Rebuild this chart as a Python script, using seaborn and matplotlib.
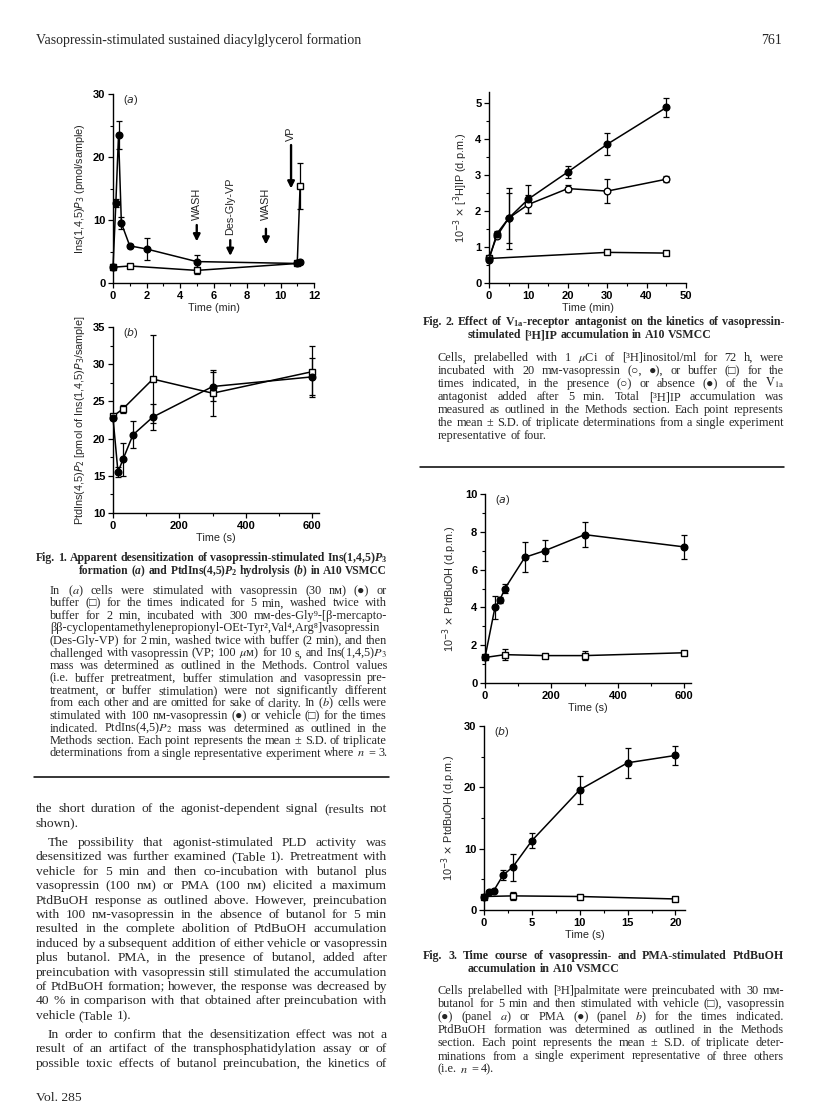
import pandas as pd
import matplotlib
matplotlib.use('Agg')
import matplotlib.pyplot as plt
from matplotlib.lines import Line2D
from matplotlib.ticker import MultipleLocator
import seaborn as sns

W, H = 816, 1112

# Fig. 1(a): Ins(1,4,5)P3 (pmol/sample) vs time (min)
f1a_vp_t = [0, 0.17, 0.33, 0.5, 1, 2, 5, 11, 11.17]
f1a_vp_y = [2.5, 12.7, 23.5, 9.5, 5.9, 5.4, 3.4, 3.1, 3.3]
f1a_vp_sd = [0.5, 0.6, 2.2, 1.0, 0.3, 1.7, 1.0, 0.3, 0.3]
f1a_buf_t = [0, 1, 5, 11, 11.17]
f1a_buf_y = [2.5, 2.7, 2.0, 3.1, 15.4]
f1a_buf_sd = [0.3, 0.2, 0.5, 0.3, 3.6]

# Fig. 1(b): PtdIns(4,5)P2 vs time (s)
f1b_vp_t = [0, 15, 30, 60, 120, 300, 600]
f1b_vp_y = [22.8, 15.5, 17.2, 20.5, 22.9, 27.0, 28.3]
f1b_vp_sd = [0.3, 0.7, 2.2, 1.8, 1.8, 2.0, 2.5]
f1b_veh_t = [0, 30, 120, 300, 600]
f1b_veh_y = [23.0, 24.0, 28.0, 26.1, 29.0]
f1b_veh_sd = [0.3, 0.5, 5.9, 3.1, 3.4]

# Fig. 2: [3H]IP vs time (min)
f2_t = [0, 2, 5, 10, 20, 30, 45]
f2_abs_y = [0.65, 1.37, 1.8, 2.33, 3.08, 3.85, 4.87]
f2_abs_sd = [0.05, 0.07, 0.85, 0.4, 0.18, 0.3, 0.25]
f2_pres_y = [0.7, 1.3, 1.8, 2.18, 2.62, 2.55, 2.88]
f2_pres_sd = [0.05, 0.05, 0.7, 0.25, 0.1, 0.33, 0.08]
f2_buf_t = [0, 30, 45]
f2_buf_y = [0.68, 0.85, 0.83]
f2_buf_sd = [0.03, 0.03, 0.03]

# Fig. 3(a): PtdBuOH, vasopressin, time (s)
f3a_vp_t = [0, 30, 45, 60, 120, 180, 300, 600]
f3a_vp_y = [1.35, 4.0, 4.4, 5.0, 6.65, 7.0, 7.85, 7.2]
f3a_vp_sd = [0.1, 0.6, 0.15, 0.25, 0.8, 0.55, 0.65, 0.65]
f3a_veh_t = [0, 60, 180, 300, 600]
f3a_veh_y = [1.35, 1.5, 1.45, 1.45, 1.6]
f3a_veh_sd = [0.1, 0.3, 0.1, 0.25, 0.05]

# Fig. 3(b): PtdBuOH, PMA, time (s)
f3b_pma_t = [0, 0.5, 1, 2, 3, 5, 10, 15, 20]
f3b_pma_y = [2.2, 3.0, 3.1, 5.7, 7.0, 11.3, 19.6, 24.0, 25.2]
f3b_pma_sd = [0.2, 0.3, 0.4, 0.8, 2.2, 1.2, 2.3, 2.4, 1.6]
f3b_veh_t = [0, 3, 10, 20]
f3b_veh_y = [2.2, 2.3, 2.2, 1.8]
f3b_veh_sd = [0.2, 0.6, 0.2, 0.3]

sns.set_style('ticks')
plt.rcParams.update({
    'font.family': ['Liberation Sans', 'DejaVu Sans'],
    'mathtext.rm': 'Liberation Serif:bold',
    'mathtext.it': 'Liberation Serif:bold:italic',
    'mathtext.bf': 'Liberation Serif:bold',
    'axes.edgecolor': 'black',
    'axes.linewidth': 1.0,
    'xtick.color': 'black',
    'ytick.color': 'black',
    'xtick.direction': 'out',
    'ytick.direction': 'out',
})

fig = plt.figure(figsize=(W / 100, H / 100), dpi=100)
fig.patch.set_facecolor('white')
renderer = fig.canvas.get_renderer()
SERIF = ['Liberation Serif', 'DejaVu Serif']
TICK_FS = 8
LAB_FS = 7.8


def axes_px(left, top, right, bottom):
    return fig.add_axes([left / W, 1 - bottom / H, (right - left) / W, (bottom - top) / H])


def series(ax, t, y, sd, marker, filled, ms=4.8):
    df = pd.DataFrame({'t': t, 'y': y})
    ax.errorbar(t, y, yerr=sd, fmt='none', ecolor='black', elinewidth=0.9,
                capsize=2, capthick=0.9, clip_on=False, zorder=2)
    sns.lineplot(data=df, x='t', y='y', ax=ax, color='black', linewidth=1.1,
                 marker=marker, markersize=ms,
                 markerfacecolor='black' if filled else 'white',
                 markeredgecolor='black', markeredgewidth=1.0,
                 estimator=None, sort=False, clip_on=False, zorder=3)


def style(ax, xlim, ylim, xmaj, xmin, ymaj, ymin, xlabel, ylabel, panel=None):
    ax.set_xlim(xlim)
    ax.set_ylim(ylim)
    ax.xaxis.set_major_locator(MultipleLocator(xmaj))
    ax.xaxis.set_minor_locator(MultipleLocator(xmin))
    ax.yaxis.set_major_locator(MultipleLocator(ymaj))
    ax.yaxis.set_minor_locator(MultipleLocator(ymin))
    ax.tick_params(which='major', length=3.5, width=0.9, pad=2)
    ax.tick_params(which='minor', length=2, width=0.8)
    for lab in ax.get_xticklabels() + ax.get_yticklabels():
        lab.set_fontsize(TICK_FS)
        lab.set_fontweight('bold')
    ax.set_xlabel(xlabel, fontsize=LAB_FS, labelpad=2)
    ax.set_ylabel(ylabel, fontsize=LAB_FS, labelpad=4, math_fontfamily='dejavusans')
    ax.set_facecolor('none')
    sns.despine(ax=ax)
    if panel:
        ax.text(0.05, 0.97, panel, transform=ax.transAxes, fontsize=LAB_FS,
                va='center', ha='left', math_fontfamily='dejavusans')


# ---- Fig. 1(a)
ax = axes_px(113, 94, 314, 283)
series(ax, f1a_buf_t, f1a_buf_y, f1a_buf_sd, 's', False)
series(ax, f1a_vp_t, f1a_vp_y, f1a_vp_sd, 'o', True)
style(ax, (0, 12), (0, 30), 2, 1, 10, 5, 'Time (min)',
      r'Ins(1,4,5)$\mathit{P}_3$ (pmol/sample)', r'($\mathit{a}$)')
arrow = dict(arrowstyle='-|>', color='black', lw=1.7, mutation_scale=10, shrinkA=0, shrinkB=0)
for xa, y_top, y_bot, label, y_lab in [(5, 9.2, 6.6, 'WASH', 10.0),
                                       (7, 6.8, 4.3, 'Des-Gly-VP', 7.6),
                                       (9.13, 8.6, 6.1, 'WASH', 10.0),
                                       (10.63, 21.9, 15.0, 'VP', 22.6)]:
    ax.annotate('', xy=(xa, y_bot), xytext=(xa, y_top), arrowprops=arrow)
    ax.text(xa, y_lab, label, rotation=90, ha='center', va='bottom', fontsize=LAB_FS)

# ---- Fig. 1(b)
ax = axes_px(113, 327, 319, 513)
series(ax, f1b_veh_t, f1b_veh_y, f1b_veh_sd, 's', False)
series(ax, f1b_vp_t, f1b_vp_y, f1b_vp_sd, 'o', True)
style(ax, (0, 620), (10, 35), 200, 100, 5, 2.5, 'Time (s)',
      r'PtdIns(4,5)$\mathit{P}_2$ [pmol of Ins(1,4,5)$\mathit{P}_3$/sample]', r'($\mathit{b}$)')

# ---- Fig. 2
ax = axes_px(489, 92, 686, 283)
series(ax, f2_buf_t, f2_buf_y, f2_buf_sd, 's', False)
series(ax, f2_t, f2_pres_y, f2_pres_sd, 'o', False)
series(ax, f2_t, f2_abs_y, f2_abs_sd, 'o', True)
style(ax, (0, 50), (0, 5.3), 10, 5, 1, 0.5, 'Time (min)',
      r'10$^{-3}$ $\times$ [$^3$H]IP (d.p.m.)')

# ---- Fig. 3(a)
ax = axes_px(485, 494, 691, 683)
series(ax, f3a_veh_t, f3a_veh_y, f3a_veh_sd, 's', False)
series(ax, f3a_vp_t, f3a_vp_y, f3a_vp_sd, 'o', True)
style(ax, (0, 620), (0, 10), 200, 100, 2, 1, 'Time (s)',
      r'10$^{-3}$ $\times$ PtdBuOH (d.p.m.)', r'($\mathit{a}$)')

# ---- Fig. 3(b)
ax = axes_px(484, 726, 685, 910)
series(ax, f3b_veh_t, f3b_veh_y, f3b_veh_sd, 's', False)
series(ax, f3b_pma_t, f3b_pma_y, f3b_pma_sd, 'o', True)
style(ax, (0, 21), (0, 30), 5, 2.5, 10, 5, 'Time (s)',
      r'10$^{-3}$ $\times$ PtdBuOH (d.p.m.)', r'($\mathit{b}$)')


# ---- page text
def text_line(x0, x1, y, line, size, weight='normal', justify=True, math='stix'):
    words = line.split(' ')
    arts = [fig.text(0, 1 - y / H, w, fontsize=size, fontweight=weight, family=SERIF,
                     math_fontfamily=math, ha='left', va='baseline') for w in words]
    n = len(arts)
    min_gap = size * 100 / 72 * 0.2
    for _ in range(4):
        widths = [a.get_window_extent(renderer).width for a in arts]
        room = x1 - x0 - min_gap * max(n - 1, 0)
        if not justify or sum(widths) <= room:
            break
        size *= room / sum(widths)
        for a in arts:
            a.set_fontsize(size)
    if justify and n > 1:
        gap = (x1 - x0 - sum(widths)) / (n - 1)
    else:
        gap = size * 100 / 72 * 0.25
    x = x0
    for a, w in zip(arts, widths):
        a.set_x(x / W)
        x += w + gap


def paragraph(lines, x0, x1, y0, step, size, indent=0, last_full=False):
    for i, line in enumerate(lines):
        last = (i == len(lines) - 1) and not last_full
        text_line(x0 + (indent if i == 0 else 0), x1, y0 + i * step, line, size,
                  justify=not last)


def rule(x0, x1, y):
    fig.add_artist(Line2D([x0 / W, x1 / W], [1 - y / H, 1 - y / H], color='black',
                          lw=1.1, transform=fig.transFigure))


LX0, LX1 = 36, 387
RX0, RX1 = 423, 784
BODY_FS = 9.7
CAP_FS = 8.8
TITLE_FS = 8.6

fig.text(LX0 / W, 1 - 44 / H, 'Vasopressin-stimulated sustained diacylglycerol formation',
         family=SERIF, fontsize=10, va='baseline', ha='left')
fig.text(782 / W, 1 - 44 / H, '761', family=SERIF, fontsize=10, va='baseline', ha='right')

# Fig. 1 legend
text_line(LX0, LX1, 561, r'Fig. 1. Apparent desensitization of vasopressin-stimulated Ins(1,4,5)$P_3$',
          TITLE_FS, weight='bold', math='custom')
text_line(79, LX1, 574, r'formation ($a$) and PtdIns(4,5)$P_2$ hydrolysis ($b$) in A10 VSMCC',
          TITLE_FS, weight='bold', math='custom')
fig1_caption = [
    r'In ($a$) cells were stimulated with vasopressin (30 nᴍ) (●) or',
    r'buffer (□) for the times indicated for 5 min, washed twice with',
    r'buffer for 2 min, incubated with 300 mᴍ-des-Gly⁹-[β-mercapto-',
    r'ββ-cyclopentamethylenepropionyl-OEt-Tyr²,Val⁴,Arg⁸]vasopressin',
    r'(Des-Gly-VP) for 2 min, washed twice with buffer (2 min), and then',
    r'challenged with vasopressin (VP; 100 $\mu$ᴍ) for 10 s, and Ins(1,4,5)$P_3$',
    r'mass was determined as outlined in the Methods. Control values',
    r'(i.e. buffer pretreatment, buffer stimulation and vasopressin pre-',
    r'treatment, or buffer stimulation) were not significantly different',
    r'from each other and are omitted for sake of clarity. In ($b$) cells were',
    r'stimulated with 100 nᴍ-vasopressin (●) or vehicle (□) for the times',
    r'indicated. PtdIns(4,5)$P_2$ mass was determined as outlined in the',
    r'Methods section. Each point represents the mean ± S.D. of triplicate',
    r'determinations from a single representative experiment where $n$ = 3.',
]
paragraph(fig1_caption, 50, LX1, 594, 12.5, CAP_FS, last_full=True)
rule(LX0 - 2, LX1 + 2, 777)

# body text, left column
body1 = [
    'the short duration of the agonist-dependent signal (results not',
    'shown).',
]
body2 = [
    'The possibility that agonist-stimulated PLD activity was',
    'desensitized was further examined (Table 1). Pretreatment with',
    'vehicle for 5 min and then co-incubation with butanol plus',
    'vasopressin (100 nᴍ) or PMA (100 nᴍ) elicited a maximum',
    'PtdBuOH response as outlined above. However, preincubation',
    'with 100 nᴍ-vasopressin in the absence of butanol for 5 min',
    'resulted in the complete abolition of PtdBuOH accumulation',
    'induced by a subsequent addition of either vehicle or vasopressin',
    'plus butanol. PMA, in the presence of butanol, added after',
    'preincubation with vasopressin still stimulated the accumulation',
    'of PtdBuOH formation; however, the response was decreased by',
    '40 % in comparison with that obtained after preincubation with',
    'vehicle (Table 1).',
]
body3 = [
    'In order to confirm that the desensitization effect was not a',
    'result of an artifact of the transphosphatidylation assay or of',
    'possible toxic effects of butanol preincubation, the kinetics of',
]
paragraph(body1, LX0, LX1, 812, 14.4, BODY_FS)
paragraph(body2, LX0, LX1, 846, 14.4, BODY_FS, indent=12)
paragraph(body3, LX0, LX1, 1038, 14.4, BODY_FS, indent=12, last_full=True)
fig.text(LX0 / W, 1 - 1101 / H, 'Vol. 285', family=SERIF, fontsize=BODY_FS, va='baseline')

# Fig. 2 legend
text_line(RX0, RX1, 325, r'Fig. 2. Effect of $\mathrm{V}_{\mathrm{1a}}$-receptor antagonist on the kinetics of vasopressin-',
          TITLE_FS, weight='bold', math='custom')
text_line(468, RX1, 338, 'stimulated [³H]IP accumulation in A10 VSMCC', TITLE_FS, weight='bold',
          justify=False, math='custom')
fig2_caption = [
    r'Cells, prelabelled with 1 $\mu$Ci of [³H]inositol/ml for 72 h, were',
    r'incubated with 20 mᴍ-vasopressin (○, ●), or buffer (□) for the',
    r'times indicated, in the presence (○) or absence (●) of the $\mathrm{V}_{\mathrm{1a}}$',
    r'antagonist added after 5 min. Total [³H]IP accumulation was',
    r'measured as outlined in the Methods section. Each point represents',
    r'the mean ± S.D. of triplicate determinations from a single experiment',
    r'representative of four.',
]
paragraph(fig2_caption, 438, RX1, 361, 13.0, CAP_FS)
rule(RX0 - 3, RX1, 467)

# Fig. 3 legend
text_line(RX0, RX1, 959, 'Fig. 3. Time course of vasopressin- and PMA-stimulated PtdBuOH',
          TITLE_FS, weight='bold', math='custom')
text_line(468, RX1, 972, 'accumulation in A10 VSMCC', TITLE_FS, weight='bold',
          justify=False, math='custom')
fig3_caption = [
    r'Cells prelabelled with [³H]palmitate were preincubated with 30 mᴍ-',
    r'butanol for 5 min and then stimulated with vehicle (□), vasopressin',
    r'(●) (panel $a$) or PMA (●) (panel $b$) for the times indicated.',
    r'PtdBuOH formation was determined as outlined in the Methods',
    r'section. Each point represents the mean ± S.D. of triplicate deter-',
    r'minations from a single experiment representative of three others',
    r'(i.e. $n$ = 4).',
]
paragraph(fig3_caption, 438, RX1, 994, 13.1, CAP_FS)

fig.savefig('out.png', dpi=100, facecolor='white')
